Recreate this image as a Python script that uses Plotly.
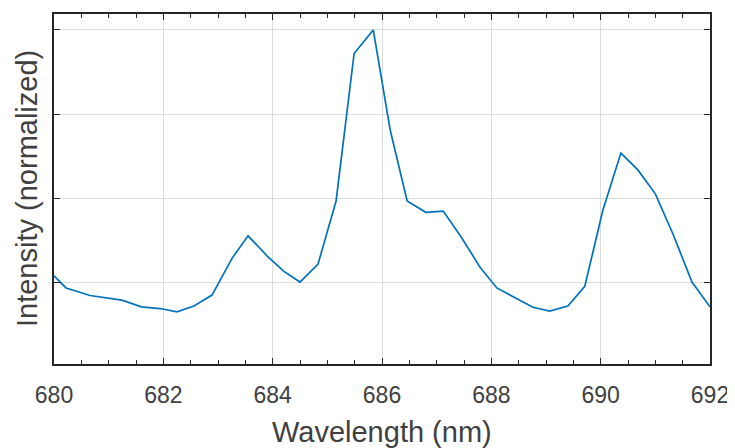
import plotly.graph_objects as go

wavelength = [680.0, 680.22, 680.66, 681.24, 681.6, 681.94, 682.25, 682.56, 682.89,
              683.26, 683.55, 683.9, 684.2, 684.5, 684.83, 685.16, 685.49, 685.84,
              686.15, 686.46, 686.8, 687.12, 687.46, 687.79, 688.1, 688.43, 688.76,
              689.07, 689.4, 689.71, 690.04, 690.37, 690.68, 691.0, 691.33, 691.67, 692.0]
intensity = [0.415, 0.386, 0.368, 0.357, 0.341, 0.337, 0.329, 0.343, 0.369,
             0.457, 0.510, 0.462, 0.426, 0.400, 0.443, 0.593, 0.944, 1.0,
             0.762, 0.593, 0.566, 0.569, 0.505, 0.436, 0.386, 0.362, 0.340,
             0.331, 0.343, 0.390, 0.571, 0.707, 0.667, 0.610, 0.512, 0.400, 0.341]

xticks = [680, 682, 684, 686, 688, 690, 692]
yticks = [0.4, 0.6, 0.8, 1.0]
x_title = "Wavelength (nm)"
y_title = "Intensity (normalized)"

fig = go.Figure()
fig.add_trace(go.Scatter(x=wavelength, y=intensity, mode="lines",
                         line=dict(color="#0072BD", width=1.7), showlegend=False))

axis_common = dict(
    showline=True, linecolor="#262626", linewidth=1.5, mirror="ticks",
    ticks="inside", tickcolor="#262626", ticklen=6, tickwidth=1.2,
    showgrid=True, gridcolor="#dcdcdc", gridwidth=1, zeroline=False,
    automargin=False,
)

# page body has an 8px margin, so the figure is shifted by 8px
fig.update_layout(
    width=727, height=440,
    margin=dict(l=46, r=25, t=6, b=84),
    paper_bgcolor="white", plot_bgcolor="white",
    font=dict(family="Liberation Sans, Arial, sans-serif", color="#404040"),
    xaxis=dict(range=[680, 692], tickvals=xticks,
               ticktext=[str(v) for v in xticks],
               tickfont=dict(size=23, color="#404040"),
               ticklabelstandoff=10,
               minor=dict(dtick=0.5, ticks="inside", ticklen=4, tickcolor="#262626", showgrid=False),
               **axis_common),
    yaxis=dict(range=[0.205, 1.038], tickvals=yticks, showticklabels=False,
               **axis_common),
    annotations=[
        dict(text=x_title, xref="paper", yref="paper", x=0.5, y=0,
             xanchor="center", yanchor="middle", yshift=-68, showarrow=False,
             font=dict(size=29, color="#404040")),
        dict(text=y_title, xref="paper", yref="paper", x=0, y=0.5,
             xanchor="center", yanchor="middle", xshift=-27, textangle=-90, showarrow=False,
             font=dict(size=29, color="#404040")),
    ],
)

fig.write_html("out.html")
